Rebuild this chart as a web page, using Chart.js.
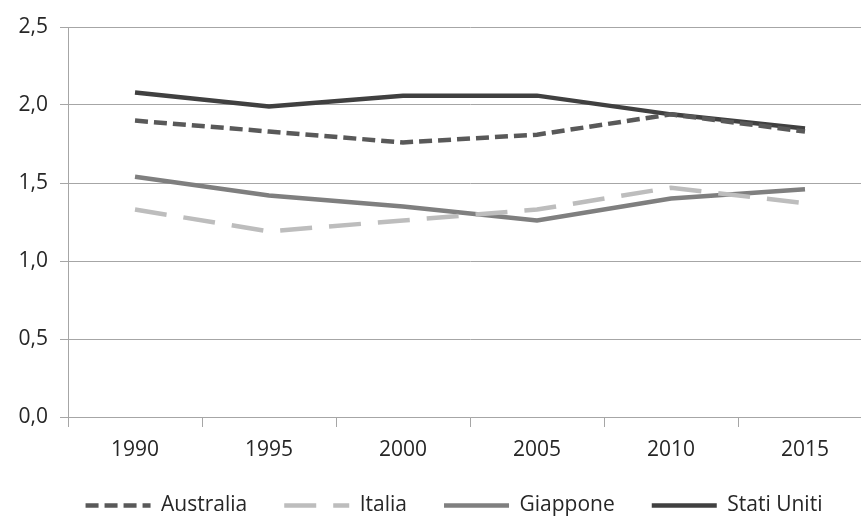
<!DOCTYPE html>
<html>
<head>
<meta charset="utf-8">
<script src="https://cdn.jsdelivr.net/npm/chart.js@4/dist/chart.umd.min.js"></script>
<style>
  html, body { margin: 0; padding: 0; background: #fff; overflow: hidden; }
  #wrap { width: 872px; height: 517px; }
</style>
</head>
<body>
<div id="wrap"><canvas id="tfrChart" width="872" height="517"></canvas></div>
<script>
const years = ["1990", "1995", "2000", "2005", "2010", "2015"];
const australia = [1.90, 1.83, 1.76, 1.81, 1.94, 1.83];
const italia = [1.33, 1.19, 1.26, 1.33, 1.47, 1.37];
const giappone = [1.54, 1.42, 1.35, 1.26, 1.40, 1.46];
const statiUniti = [2.08, 1.99, 2.06, 2.06, 1.94, 1.85];
const yTicks = [0, 0.5, 1, 1.5, 2, 2.5];

const FONT = "'Open Sans', sans-serif";
const FONT_SIZE = 21;
const TEXT = "#262626";
const GRID = "#a6a6a6";
const SAMPLE_W = 65;

function line(label, data, color, dash) {
  return {
    label,
    data,
    borderColor: color,
    backgroundColor: color,
    borderWidth: 4.5,
    borderDash: dash,
    tension: 0,
    pointRadius: 0,
    fill: false,
  };
}

// legend sits a bit right of the canvas centre and just under the year labels
const legendPlacer = {
  id: "legendPlacer",
  afterLayout(chart) {
    const lg = chart.legend;
    lg.left += 18;
    lg.right += 18;
    lg.top = 458;
    lg.bottom = lg.top + lg.height;
  },
  // point-style legend lines ignore borderDash, so the samples are stroked here
  afterDraw(chart) {
    const ctx = chart.ctx;
    const boxes = chart.legend.legendHitBoxes || [];
    boxes.forEach((box, i) => {
      const ds = chart.data.datasets[i];
      const y = box.top + FONT_SIZE / 2;
      ctx.save();
      ctx.strokeStyle = ds.borderColor;
      ctx.lineWidth = ds.borderWidth;
      ctx.setLineDash(ds.borderDash || []);
      ctx.beginPath();
      ctx.moveTo(box.left, y);
      ctx.lineTo(box.left + SAMPLE_W, y);
      ctx.stroke();
      ctx.restore();
    });
  },
};

new Chart(document.getElementById("tfrChart").getContext("2d"), {
  type: "line",
  data: {
    labels: years,
    datasets: [
      line("Australia", australia, "#595959", [13, 6]),
      line("Italia", italia, "#bdbdbd", [32, 17]),
      line("Giappone", giappone, "#7f7f7f", []),
      line("Stati Uniti", statiUniti, "#404040", []),
    ],
  },
  plugins: [legendPlacer],
  options: {
    responsive: false,
    animation: false,
    layout: { padding: { left: 0, top: 27, right: 0, bottom: -23 } },
    plugins: {
      tooltip: { enabled: false },
      legend: {
        position: "bottom",
        labels: {
          usePointStyle: true,
          pointStyle: "line",
          pointStyleWidth: SAMPLE_W,
          boxHeight: 10,
          padding: 37,
          color: TEXT,
          font: { family: FONT, size: FONT_SIZE },
          generateLabels(chart) {
            const items = Chart.defaults.plugins.legend.labels.generateLabels(chart);
            items.forEach((it) => { it.lineWidth = 0; it.strokeStyle = "rgba(0,0,0,0)"; });
            return items;
          },
        },
      },
    },
    scales: {
      x: {
        offset: true,
        grid: { offset: true, drawOnChartArea: false, tickLength: 10, color: GRID },
        border: { color: GRID },
        ticks: { color: TEXT, padding: 10, font: { family: FONT, size: FONT_SIZE } },
        afterFit: (scale) => { scale.height = 55; },
      },
      y: {
        min: 0,
        max: 2.5,
        afterBuildTicks: (scale) => { scale.ticks = yTicks.map((v) => ({ value: v })); },
        grid: { color: GRID, tickLength: 8 },
        border: { color: GRID },
        ticks: {
          color: TEXT,
          padding: 12,
          font: { family: FONT, size: FONT_SIZE },
          callback: (v) => Number(v).toFixed(1).replace(".", ","),
        },
        afterFit: (scale) => { scale.width = 68; },
      },
    },
  },
});
</script>
</body>
</html>
